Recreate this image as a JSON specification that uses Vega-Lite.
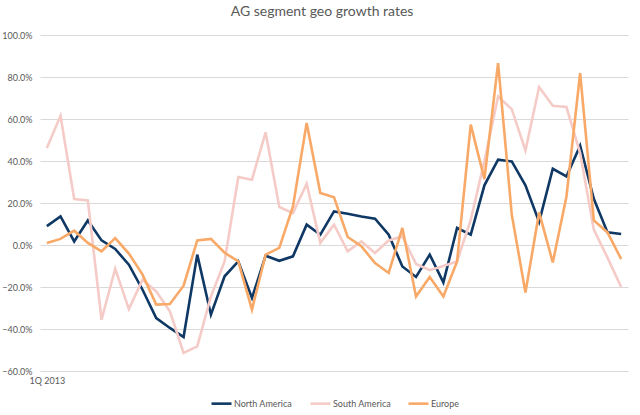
{
  "$schema": "https://vega.github.io/schema/vega-lite/v6.json",
  "width": 588,
  "height": 336,
  "autosize": {"type": "none"},
  "padding": {"left": 40, "top": 35, "right": 12, "bottom": 44},
  "background": "white",
  "title": {"text": "AG segment geo growth rates", "fontSize": 14, "font": "Lato", "fontWeight": "normal", "color": "#595959", "offset": 12, "dx": -12},
  "config": {"view": {"stroke": null}, "font": "Lato"},
  "datasets": {
    "rates": [
      {"q":"1Q 2013","s":"North America","v":0.090},{"q":"2Q 2013","s":"North America","v":0.136},{"q":"3Q 2013","s":"North America","v":0.017},{"q":"4Q 2013","s":"North America","v":0.117},
      {"q":"1Q 2014","s":"North America","v":0.022},{"q":"2Q 2014","s":"North America","v":-0.019},{"q":"3Q 2014","s":"North America","v":-0.094},{"q":"4Q 2014","s":"North America","v":-0.213},
      {"q":"1Q 2015","s":"North America","v":-0.348},{"q":"2Q 2015","s":"North America","v":-0.395},{"q":"3Q 2015","s":"North America","v":-0.438},{"q":"4Q 2015","s":"North America","v":-0.046},
      {"q":"1Q 2016","s":"North America","v":-0.332},{"q":"2Q 2016","s":"North America","v":-0.149},{"q":"3Q 2016","s":"North America","v":-0.078},{"q":"4Q 2016","s":"North America","v":-0.252},
      {"q":"1Q 2017","s":"North America","v":-0.051},{"q":"2Q 2017","s":"North America","v":-0.075},{"q":"3Q 2017","s":"North America","v":-0.054},{"q":"4Q 2017","s":"North America","v":0.097},
      {"q":"1Q 2018","s":"North America","v":0.049},{"q":"2Q 2018","s":"North America","v":0.160},{"q":"3Q 2018","s":"North America","v":0.149},{"q":"4Q 2018","s":"North America","v":0.136},
      {"q":"1Q 2019","s":"North America","v":0.125},{"q":"2Q 2019","s":"North America","v":0.049},{"q":"3Q 2019","s":"North America","v":-0.102},{"q":"4Q 2019","s":"North America","v":-0.152},
      {"q":"1Q 2020","s":"North America","v":-0.046},{"q":"2Q 2020","s":"North America","v":-0.178},{"q":"3Q 2020","s":"North America","v":0.081},{"q":"4Q 2020","s":"North America","v":0.049},
      {"q":"1Q 2021","s":"North America","v":0.284},{"q":"2Q 2021","s":"North America","v":0.406},{"q":"3Q 2021","s":"North America","v":0.398},{"q":"4Q 2021","s":"North America","v":0.284},
      {"q":"1Q 2022","s":"North America","v":0.110},{"q":"2Q 2022","s":"North America","v":0.363},{"q":"3Q 2022","s":"North America","v":0.327},{"q":"4Q 2022","s":"North America","v":0.473},
      {"q":"1Q 2023","s":"North America","v":0.220},{"q":"2Q 2023","s":"North America","v":0.060},{"q":"3Q 2023","s":"North America","v":0.052},

      {"q":"1Q 2013","s":"South America","v":0.462},{"q":"2Q 2013","s":"South America","v":0.615},{"q":"3Q 2013","s":"South America","v":0.219},{"q":"4Q 2013","s":"South America","v":0.212},
      {"q":"1Q 2014","s":"South America","v":-0.356},{"q":"2Q 2014","s":"South America","v":-0.113},{"q":"3Q 2014","s":"South America","v":-0.305},{"q":"4Q 2014","s":"South America","v":-0.165},
      {"q":"1Q 2015","s":"South America","v":-0.221},{"q":"2Q 2015","s":"South America","v":-0.316},{"q":"3Q 2015","s":"South America","v":-0.514},{"q":"4Q 2015","s":"South America","v":-0.483},
      {"q":"1Q 2016","s":"South America","v":-0.245},{"q":"2Q 2016","s":"South America","v":-0.078},{"q":"3Q 2016","s":"South America","v":0.324},{"q":"4Q 2016","s":"South America","v":0.311},
      {"q":"1Q 2017","s":"South America","v":0.536},{"q":"2Q 2017","s":"South America","v":0.181},{"q":"3Q 2017","s":"South America","v":0.152},{"q":"4Q 2017","s":"South America","v":0.292},
      {"q":"1Q 2018","s":"South America","v":0.010},{"q":"2Q 2018","s":"South America","v":0.097},{"q":"3Q 2018","s":"South America","v":-0.030},{"q":"4Q 2018","s":"South America","v":0.017},
      {"q":"1Q 2019","s":"South America","v":-0.038},{"q":"2Q 2019","s":"South America","v":0.022},{"q":"3Q 2019","s":"South America","v":0.041},{"q":"4Q 2019","s":"South America","v":-0.090},
      {"q":"1Q 2020","s":"South America","v":-0.120},{"q":"2Q 2020","s":"South America","v":-0.100},{"q":"3Q 2020","s":"South America","v":-0.078},{"q":"4Q 2020","s":"South America","v":0.120},
      {"q":"1Q 2021","s":"South America","v":0.400},{"q":"2Q 2021","s":"South America","v":0.707},{"q":"3Q 2021","s":"South America","v":0.647},{"q":"4Q 2021","s":"South America","v":0.450},
      {"q":"1Q 2022","s":"South America","v":0.752},{"q":"2Q 2022","s":"South America","v":0.663},{"q":"3Q 2022","s":"South America","v":0.657},{"q":"4Q 2022","s":"South America","v":0.438},
      {"q":"1Q 2023","s":"South America","v":0.073},{"q":"2Q 2023","s":"South America","v":-0.060},{"q":"3Q 2023","s":"South America","v":-0.200},

      {"q":"1Q 2013","s":"Europe","v":0.010},{"q":"2Q 2013","s":"Europe","v":0.029},{"q":"3Q 2013","s":"Europe","v":0.068},{"q":"4Q 2013","s":"Europe","v":0.010},
      {"q":"1Q 2014","s":"Europe","v":-0.030},{"q":"2Q 2014","s":"Europe","v":0.033},{"q":"3Q 2014","s":"Europe","v":-0.041},{"q":"4Q 2014","s":"Europe","v":-0.141},
      {"q":"1Q 2015","s":"Europe","v":-0.284},{"q":"2Q 2015","s":"Europe","v":-0.281},{"q":"3Q 2015","s":"Europe","v":-0.194},{"q":"4Q 2015","s":"Europe","v":0.022},
      {"q":"1Q 2016","s":"Europe","v":0.029},{"q":"2Q 2016","s":"Europe","v":-0.037},{"q":"3Q 2016","s":"Europe","v":-0.078},{"q":"4Q 2016","s":"Europe","v":-0.308},
      {"q":"1Q 2017","s":"Europe","v":-0.046},{"q":"2Q 2017","s":"Europe","v":-0.014},{"q":"3Q 2017","s":"Europe","v":0.184},{"q":"4Q 2017","s":"Europe","v":0.581},
      {"q":"1Q 2018","s":"Europe","v":0.248},{"q":"2Q 2018","s":"Europe","v":0.227},{"q":"3Q 2018","s":"Europe","v":0.038},{"q":"4Q 2018","s":"Europe","v":-0.006},
      {"q":"1Q 2019","s":"Europe","v":-0.086},{"q":"2Q 2019","s":"Europe","v":-0.133},{"q":"3Q 2019","s":"Europe","v":0.081},{"q":"4Q 2019","s":"Europe","v":-0.245},
      {"q":"1Q 2020","s":"Europe","v":-0.152},{"q":"2Q 2020","s":"Europe","v":-0.245},{"q":"3Q 2020","s":"Europe","v":-0.078},{"q":"4Q 2020","s":"Europe","v":0.573},
      {"q":"1Q 2021","s":"Europe","v":0.314},{"q":"2Q 2021","s":"Europe","v":0.866},{"q":"3Q 2021","s":"Europe","v":0.145},{"q":"4Q 2021","s":"Europe","v":-0.226},
      {"q":"1Q 2022","s":"Europe","v":0.155},{"q":"2Q 2022","s":"Europe","v":-0.083},{"q":"3Q 2022","s":"Europe","v":0.231},{"q":"4Q 2022","s":"Europe","v":0.819},
      {"q":"1Q 2023","s":"Europe","v":0.117},{"q":"2Q 2023","s":"Europe","v":0.060},{"q":"3Q 2023","s":"Europe","v":-0.067}
    ]
  },
  "data": {"name": "rates"},
  "mark": {"type": "line", "strokeWidth": 2.6, "strokeJoin": "miter"},
  "encoding": {
    "x": {
      "field": "q", "type": "ordinal", "sort": null,
      "scale": {"type": "point", "padding": 0.5},
      "axis": {"title": null, "domain": false, "ticks": false, "grid": false, "labelAngle": 0, "labelOverlap": false,
               "labelExpr": "datum.value == '1Q 2013' ? datum.value : ''", "labelFontSize": 9, "labelColor": "#595959", "labelPadding": 5}
    },
    "y": {
      "field": "v", "type": "quantitative",
      "scale": {"domain": [-0.6, 1.0], "nice": false, "zero": false},
      "axis": {"title": null, "format": ".1%", "values": [-0.6, -0.4, -0.2, 0, 0.2, 0.4, 0.6, 0.8, 1.0], "domain": false, "ticks": false,
               "gridColor": "#d9d9d9", "gridWidth": 1, "labelFontSize": 9, "labelColor": "#595959", "labelPadding": 8}
    },
    "color": {
      "field": "s", "type": "nominal", "sort": null,
      "scale": {"domain": ["North America", "South America", "Europe"], "range": ["#0f3864", "#f5cbc7", "#f9a967"]},
      "legend": {"title": null, "orient": "none", "direction": "horizontal", "legendX": 170, "legendY": 357,
                 "symbolType": "stroke", "symbolSize": 400, "symbolStrokeWidth": 2.6, "labelFontSize": 9, "labelColor": "#595959",
                 "labelOffset": 1, "columnPadding": 12}
    }
  }
}
